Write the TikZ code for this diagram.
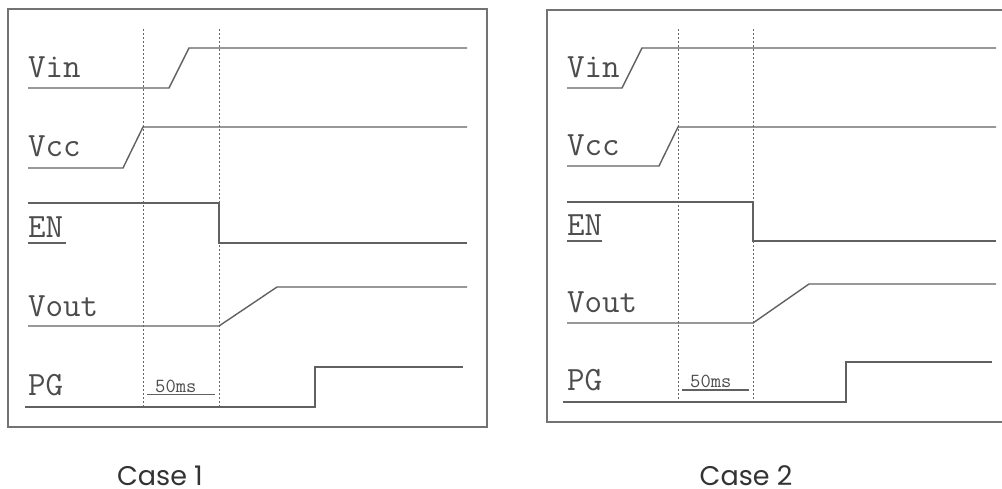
\documentclass[tikz,border=0pt]{standalone}
\usepackage{fontspec}
\newfontfamily\capfont{Poppins}
\begin{document}
\begin{tikzpicture}[x=1pt,y=-1pt,
  sig/.style={draw=black!62,line width=1.4pt,line join=miter},
  frame/.style={draw=black!55,line width=1.4pt},
  guide/.style={draw=black!60,line width=0.9pt,dash pattern=on 2pt off 2pt},
  lbl/.style={anchor=base west,inner sep=0pt,text=black!70,font=\fontsize{34}{34}\selectfont\ttfamily},
  small/.style={anchor=base west,inner sep=0pt,text=black!70,font=\fontsize{20}{20}\selectfont\ttfamily},
  caption/.style={anchor=base,inner sep=0pt,text=black!80,font=\fontsize{27}{27}\selectfont\capfont}]
\useasboundingbox (0,0) rectangle (1002,488);
% ---------- Case 1 ----------
\draw[frame] (8,9) rectangle (487,427);
\draw[guide] (143,29) -- (143,407);
\draw[guide] (219,29) -- (219,407);
\node[lbl] (vin1) at (28,77) {Vin};
\node[lbl] (vcc1) at (28,156) {Vcc};
\node[lbl] (en1) at (28,237) {EN};
\node[lbl] (vout1) at (28,316) {Vout};
\node[lbl] (pg1) at (28,395) {PG};
\draw[sig] (28,243) -- (66,243);
\draw[sig] (28,88) -- (169,88) -- (189,48) -- (467,48);
\draw[sig] (28,168) -- (123,168) -- (143,127) -- (467,127);
\draw[sig] (28,203) -- (219,203) -- (219,243) -- (467,243);
\draw[sig] (28,326) -- (219,326) -- (277,287) -- (467,287);
\draw[sig] (25,407) -- (315,407) -- (315,367) -- (463,367);
\node[small] (ms1) at (155,392) {50ms};
\draw[sig,line width=1.1pt] (147,394.5) -- (215,394.5);
\node[caption] (c1) at (160,485) {Case 1};
% ---------- Case 2 ----------
\draw[frame] (1010,10) -- (547,10) -- (547,422) -- (1010,422);
\draw[guide] (678,29) -- (678,402);
\draw[guide] (753,29) -- (753,402);
\node[lbl] (vin2) at (567,77) {Vin};
\node[lbl] (vcc2) at (567,155) {Vcc};
\node[lbl] (en2) at (567,235) {EN};
\node[lbl] (vout2) at (567,312) {Vout};
\node[lbl] (pg2) at (567,390) {PG};
\draw[sig] (567,241) -- (602,241);
\draw[sig] (567,88) -- (622,88) -- (642,48) -- (996,48);
\draw[sig] (567,166) -- (659,166) -- (678,127) -- (996,127);
\draw[sig] (567,202) -- (753,202) -- (753,241) -- (996,241);
\draw[sig] (567,323) -- (753,323) -- (809,284) -- (996,284);
\draw[sig] (563,402) -- (846,402) -- (846,362) -- (992,362);
\node[small] (ms2) at (690,387) {50ms};
\draw[sig,line width=1.1pt] (682,390) -- (749,390);
\node[caption] (c2) at (746,485) {Case 2};
\end{tikzpicture}
\end{document}
